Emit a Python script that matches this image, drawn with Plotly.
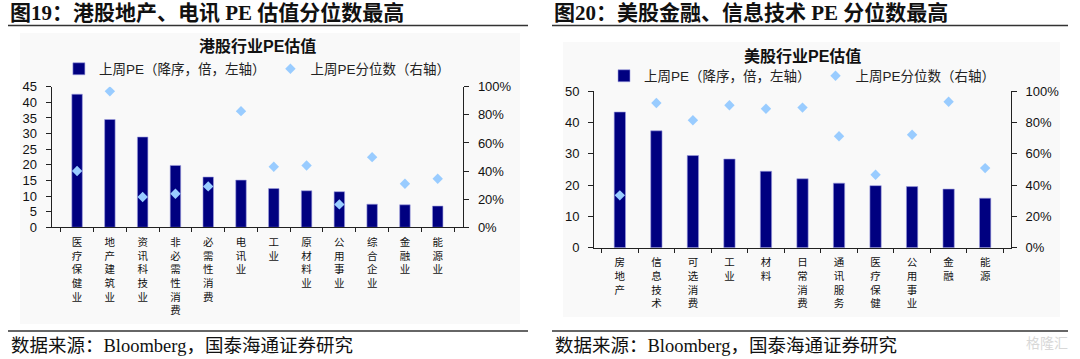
import plotly.graph_objects as go

W, H = 1080, 359

# ---------------- data ----------------
hk_industries = ["医疗保健业", "地产建筑业", "资讯科技业", "非必需性消费", "必需性消费", "电讯业",
                 "工业", "原材料业", "公用事业", "综合企业", "金融业", "能源业"]
hk_pe = [42.6, 34.5, 28.9, 19.8, 16.1, 15.1, 12.4, 11.7, 11.4, 7.4, 7.2, 6.8]
hk_pct = [0.400, 0.967, 0.215, 0.239, 0.291, 0.826, 0.431, 0.440, 0.163, 0.499, 0.310, 0.345]

us_industries = ["房地产", "信息技术", "可选消费", "工业", "材料", "日常消费", "通讯服务",
                 "医疗保健", "公用事业", "金融", "能源"]
us_pe = [43.3, 37.3, 29.4, 28.3, 24.4, 22.0, 20.6, 19.8, 19.5, 18.7, 15.8]
us_pct = [0.334, 0.923, 0.813, 0.909, 0.887, 0.894, 0.711, 0.466, 0.721, 0.931, 0.508]

bar_name = "上周PE（降序，倍，左轴）"
pct_name = "上周PE分位数（右轴）"
hk_title = "港股行业PE估值"
us_title = "美股行业PE估值"
hk_header = "图19：港股地产、电讯 PE 估值分位数最高"
us_header = "图20：美股金融、信息技术 PE 分位数最高"
source_text = "数据来源：Bloomberg，国泰海通证券研究"

# ---------------- styles ----------------
NAVY = "#000080"
LIGHT = "#99CCFF"
SANS = "Liberation Sans, Arial, Noto Sans CJK SC, sans-serif"
CJK = "Noto Sans CJK SC, sans-serif"
SERIF = "Liberation Serif, Noto Sans CJK SC, serif"


def px(x):
    return x / W


def py(y):
    return 1 - y / H


def vertical(s):
    return "<br>".join(list(s))


fig = go.Figure()

# left chart (HK)
fig.add_trace(go.Bar(x=hk_industries, y=hk_pe, name=bar_name, width=0.32,
                     marker=dict(color=NAVY, line=dict(color="#A0A0E0", width=0.6)),
                     xaxis="x", yaxis="y", legend="legend"))
fig.add_trace(go.Scatter(x=hk_industries, y=hk_pct, name=pct_name, mode="markers",
                         marker=dict(symbol="diamond", size=8, color=LIGHT),
                         xaxis="x", yaxis="y2", legend="legend"))
# right chart (US)
fig.add_trace(go.Bar(x=us_industries, y=us_pe, name=bar_name, width=0.31,
                     marker=dict(color=NAVY, line=dict(color="#A0A0E0", width=0.6)),
                     xaxis="x2", yaxis="y3", legend="legend2"))
fig.add_trace(go.Scatter(x=us_industries, y=us_pct, name=pct_name, mode="markers",
                         marker=dict(symbol="diamond", size=8, color=LIGHT),
                         xaxis="x2", yaxis="y4", legend="legend2"))

L_X = (51.5, 463.3)
L_Y = (86.7, 227.3)
R_X = (594.0, 1011.0)
R_Y = (91.0, 247.7)

common_y = dict(showgrid=False, zeroline=False, showline=True, linecolor="#222", linewidth=1,
                ticks="outside", ticklen=5, tickcolor="#222", automargin=False,
                ticklabelstandoff=6, tickfont=dict(family=SANS, size=13, color="#111"))
common_x = dict(type="category", showgrid=False, showline=True, linecolor="#222", linewidth=1,
                ticks="outside", ticklen=4, tickcolor="#222", tickson="boundaries",
                automargin=False, tickangle=0, ticklabelstandoff=5,
                tickfont=dict(family=CJK, size=10.5, color="#111"))

fig.update_layout(
    width=W, height=H,
    autosize=False,
    margin=dict(l=0, r=0, t=0, b=0, pad=0),
    paper_bgcolor="white",
    plot_bgcolor="white",
    showlegend=True,
    xaxis=dict(domain=[px(L_X[0]), px(L_X[1])], anchor="y",
               tickvals=hk_industries, ticktext=[vertical(s) for s in hk_industries], **common_x),
    yaxis=dict(domain=[py(L_Y[1]), py(L_Y[0])], anchor="x", range=[0, 45], dtick=5, **common_y),
    yaxis2=dict(overlaying="y", anchor="x", side="right", range=[0, 1], dtick=0.2,
                tickformat=".0%", **common_y),
    xaxis2=dict(domain=[px(R_X[0]), px(R_X[1])], anchor="y3",
                tickvals=us_industries, ticktext=[vertical(s) for s in us_industries], **common_x),
    yaxis3=dict(domain=[py(R_Y[1]), py(R_Y[0])], anchor="x2", range=[0, 50], dtick=10,
                **common_y),
    yaxis4=dict(overlaying="y3", anchor="x2", side="right", range=[0, 1], dtick=0.2,
                tickformat=".0%", **common_y),
    legend=dict(orientation="h", x=px((L_X[0] + L_X[1]) / 2), xanchor="center",
                y=py(69), yanchor="middle", bgcolor="rgba(0,0,0,0)",
                font=dict(family=SANS, size=13.5, color="#222"), itemwidth=30),
    legend2=dict(orientation="h", x=px((R_X[0] + R_X[1]) / 2), xanchor="center",
                 y=py(76), yanchor="middle", bgcolor="rgba(0,0,0,0)",
                 font=dict(family=SANS, size=13.5, color="#222"), itemwidth=30),
)

shapes = [
    # faint chart panels
    dict(type="rect", xref="paper", yref="paper", x0=px(20), x1=px(520), y0=py(324), y1=py(33),
         fillcolor="#F9F9F9", line=dict(width=0), layer="below"),
    dict(type="rect", xref="paper", yref="paper", x0=px(563), x1=px(1060), y0=py(317), y1=py(42),
         fillcolor="#F9F9F9", line=dict(width=0), layer="below"),
    # header rules
    dict(type="line", xref="paper", yref="paper", x0=px(8), x1=px(528), y0=py(25.5), y1=py(25.5),
         line=dict(color="#333", width=1.6)),
    dict(type="line", xref="paper", yref="paper", x0=px(552), x1=px(1068), y0=py(25.5), y1=py(25.5),
         line=dict(color="#333", width=1.6)),
    # footer rules
    dict(type="line", xref="paper", yref="paper", x0=px(8), x1=px(528), y0=py(331), y1=py(331),
         line=dict(color="#333", width=1.6)),
    dict(type="line", xref="paper", yref="paper", x0=px(552), x1=px(1068), y0=py(331), y1=py(331),
         line=dict(color="#333", width=1.6)),
]
fig.update_layout(shapes=shapes)

annotations = [
    dict(text="<b>" + hk_header + "</b>", x=px(8), y=py(13.5), xanchor="left", yanchor="middle",
         font=dict(family=SERIF, size=21, color="#111")),
    dict(text="<b>" + us_header + "</b>", x=px(552), y=py(13.5), xanchor="left", yanchor="middle",
         font=dict(family=SERIF, size=21, color="#111")),
    dict(text="<b>" + hk_title + "</b>", x=px((L_X[0] + L_X[1]) / 2), y=py(46), xanchor="center",
         yanchor="middle", font=dict(family=SANS, size=16, color="#111")),
    dict(text="<b>" + us_title + "</b>", x=px((R_X[0] + R_X[1]) / 2), y=py(56), xanchor="center",
         yanchor="middle", font=dict(family=SANS, size=16, color="#111")),
    dict(text=source_text, x=px(9), y=py(346), xanchor="left", yanchor="middle",
         font=dict(family=SERIF, size=18.5, color="#111")),
    dict(text=source_text, x=px(553), y=py(346), xanchor="left", yanchor="middle",
         font=dict(family=SERIF, size=18.5, color="#111")),
    dict(text="格隆汇", x=px(1070), y=py(342), xanchor="right", yanchor="middle",
         font=dict(family=CJK, size=14, color="#D8D8D8")),
]
for a in annotations:
    a.update(xref="paper", yref="paper", showarrow=False)
fig.update_layout(annotations=annotations)

fig.write_html("out.html",
               config={"displayModeBar": False},
               post_script="document.body.style.margin='0';document.body.style.overflow='hidden';")
